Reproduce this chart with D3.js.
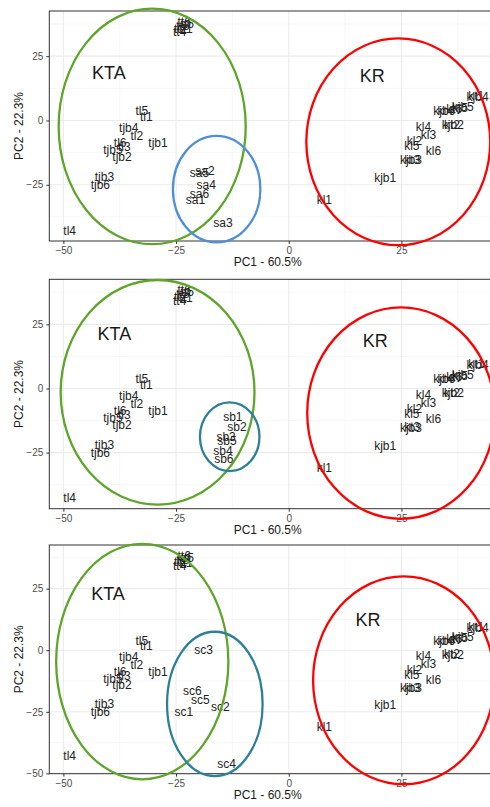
<!DOCTYPE html>
<html>
<head>
<meta charset="utf-8">
<script src="https://cdn.jsdelivr.net/npm/d3@7"></script>
<style>
body { margin: 0; background: #fff; }
svg { display: block; font-family: Arial, "Liberation Sans", sans-serif; }
</style>
</head>
<body>
<div id="chart_wrapper"></div>
<script>
// shared samples (same in all three panels)
var baseNames = ["tt5","tt6","tt3","tt1","tt2","tt4",
    "tl5","tl1","tjb4","tl2","tjb1","tl6","tjb5","tl3","tjb2","tjb3","tjb6","tl4",
    "kjb4","kt1","kjb5","kt5","kjb6","kt4","kt6","kjb2","kt2","kl4","kl3","kl2","kl5","kl6","kjb3","kt3","kjb1","kl1"];
var baseX = [-22.5,-23.2,-23.5,-22.8,-24.0,-24.2,
    -32.6,-31.6,-35.5,-33.7,-29.0,-37.4,-39.0,-36.5,-37.0,-40.9,-41.8,-48.6,
    41.9,41.6,38.6,38.0,34.5,34.8,36.7,36.4,36.2,29.9,31.0,27.9,27.3,32.1,27.1,27.4,21.4,7.9];
var baseY = [37.5,38.5,36.8,35.5,35.8,34.3,
    3.7,1.6,-2.7,-6.0,-8.8,-8.6,-11.4,-10.3,-14.0,-21.9,-24.9,-42.8,
    9.3,9.5,5.3,5.0,3.7,3.9,4.7,-1.7,-1.5,-2.3,-5.6,-7.9,-9.9,-11.8,-15.3,-15.1,-22.2,-31.0];

// panel specific samples
var saNames = ["sa2","sa5","sa4","sa6","sa1","sa3"];
var saX = [-18.6,-19.8,-18.3,-19.8,-20.7,-14.6];
var saY = [-19.6,-20.2,-25.2,-28.4,-31.0,-39.7];

var sbNames = ["sb1","sb2","sb3","sb5","sb4","sb6"];
var sbX = [-12.4,-11.5,-13.9,-13.7,-14.6,-14.4];
var sbY = [-11.1,-15.0,-18.9,-20.5,-24.4,-27.6];

var scNames = ["sc3","sc6","sc5","sc2","sc1","sc4"];
var scX = [-18.9,-21.4,-19.6,-15.2,-23.3,-13.8];
var scY = [0.0,-16.3,-20.3,-23.1,-25.0,-45.9];

// ellipses: [cx, cy, rx, ry] in data units, one list per panel
var ellKTA = [[-30.3,-2.3,20.75,45.8],[-29.1,-1.5,21.5,43.8],[-32.5,-4.6,19.1,47.8]];
var ellKR  = [[24.3,-8.3,20.4,40.2],[24.9,-9.6,20.8,41.2],[25.5,-12.2,20.1,42.2]];
var ellSub = [[-16.0,-26.7,9.7,20.7],[-13.1,-18.8,6.6,13.4],[-16.4,-21.8,10.6,29.3]];
var subColor = ["#4f8fd9","#2e8099","#2e8099"];

// group labels per panel
var ktaPos = [[-39.9,18.7],[-38.7,21.5],[-40.1,23.1]];
var krPos  = [[18.5,17.4],[19.2,18.6],[17.6,12.2]];

var xTicks = [-50,-25,0,25];
var yTicks = [-50,-25,0,25];

var width = 490, height = 807;
var svg = d3.select("#chart_wrapper").append("svg").attr("width", width).attr("height", height);

var panels = [
    {top: 11, bottom: 241, names: saNames, xs: saX, ys: saY},
    {top: 279.3, bottom: 508.7, names: sbNames, xs: sbX, ys: sbY},
    {top: 545, bottom: 773.7, names: scNames, xs: scX, ys: scY}
];

var left = 49.3, right = 498;
var fontFam = "Arial, 'Liberation Sans', sans-serif";

function expand(ext) {
    var pad = (ext[1] - ext[0]) * 0.05;
    return [ext[0] - pad, ext[1] + pad];
}

var allX = baseX.concat(saX, sbX, scX);
var x = d3.scaleLinear().domain(expand(d3.extent(allX))).range([left, right]);

panels.forEach(function(p, i) {
    var pts = baseNames.map(function(n, j) { return {name: n, x: baseX[j], y: baseY[j]}; })
        .concat(p.names.map(function(n, j) { return {name: n, x: p.xs[j], y: p.ys[j]}; }));
    var y = d3.scaleLinear().domain(expand(d3.extent(pts, function(d) { return d.y; }))).range([p.bottom, p.top]);
    var g = svg.append("g");

    // grid
    var xd = x.domain(), yd = y.domain();
    var xMinor = xTicks.map(function(t) { return t + 12.5; }).concat([-62.5]).filter(function(t) { return t > xd[0] && t < xd[1]; });
    var yMinor = yTicks.map(function(t) { return t + 12.5; }).concat([-62.5]).filter(function(t) { return t > yd[0] && t < yd[1]; });
    var yMaj = yTicks.filter(function(t) { return t >= yd[0] - 0.01 && t <= yd[1]; });

    g.selectAll(".xminor").data(xMinor).enter().append("line")
        .attr("x1", d => x(d)).attr("x2", d => x(d)).attr("y1", p.top).attr("y2", p.bottom)
        .attr("stroke", "#f2f2f2").attr("stroke-width", 0.6);
    g.selectAll(".yminor").data(yMinor).enter().append("line")
        .attr("y1", d => y(d)).attr("y2", d => y(d)).attr("x1", left).attr("x2", right)
        .attr("stroke", "#f2f2f2").attr("stroke-width", 0.6);
    g.selectAll(".xmaj").data(xTicks).enter().append("line")
        .attr("x1", d => x(d)).attr("x2", d => x(d)).attr("y1", p.top).attr("y2", p.bottom)
        .attr("stroke", "#ebebeb").attr("stroke-width", 1.1);
    g.selectAll(".ymaj").data(yMaj).enter().append("line")
        .attr("y1", d => y(d)).attr("y2", d => y(d)).attr("x1", left).attr("x2", right)
        .attr("stroke", "#ebebeb").attr("stroke-width", 1.1);

    // axes
    g.append("g").attr("transform", "translate(0," + p.bottom + ")")
        .call(d3.axisBottom(x).tickValues(xTicks).tickSize(3).tickPadding(3))
        .call(function(a) {
            a.select(".domain").remove();
            a.selectAll("line").attr("stroke", "#333");
            a.selectAll("text").attr("fill", "#4d4d4d").attr("font-size", 10).attr("font-family", fontFam);
        });
    g.append("g").attr("transform", "translate(" + left + ",0)")
        .call(d3.axisLeft(y).tickValues(yMaj).tickSize(3).tickPadding(3))
        .call(function(a) {
            a.select(".domain").remove();
            a.selectAll("line").attr("stroke", "#333");
            a.selectAll("text").attr("fill", "#4d4d4d").attr("font-size", 10).attr("font-family", fontFam);
        });

    g.append("rect").attr("x", left).attr("y", p.top).attr("width", right - left).attr("height", p.bottom - p.top)
        .attr("fill", "none").attr("stroke", "#333").attr("stroke-width", 1);

    // axis titles
    g.append("text").attr("x", (left + right) / 2 - 6).attr("y", p.bottom + 25)
        .attr("text-anchor", "middle").attr("font-size", 12).attr("fill", "#1a1a1a").text("PC1 - 60.5%");
    g.append("text").attr("transform", "translate(" + 23 + "," + ((p.top + p.bottom) / 2) + ") rotate(-90)")
        .attr("text-anchor", "middle").attr("font-size", 12).attr("fill", "#1a1a1a").text("PC2 - 22.3%");

    // labels
    g.selectAll(".lbl").data(pts).enter().append("text")
        .attr("x", d => x(d.x)).attr("y", d => y(d.y)).attr("dy", "0.35em")
        .attr("text-anchor", "middle").attr("font-size", 12).attr("fill", "#222")
        .text(d => d.name);

    // ellipses
    function ell(e, col) {
        g.append("ellipse")
            .attr("cx", x(e[0])).attr("cy", y(e[1]))
            .attr("rx", x(e[0] + e[2]) - x(e[0])).attr("ry", y(e[1]) - y(e[1] + e[3]))
            .attr("fill", "none").attr("stroke", col).attr("stroke-width", 2.3);
    }
    ell(ellKTA[i], "#5fa52a");
    ell(ellKR[i], "#ff0000");
    ell(ellSub[i], subColor[i]);

    g.append("text").attr("x", x(ktaPos[i][0])).attr("y", y(ktaPos[i][1])).attr("dy", "0.35em")
        .attr("text-anchor", "middle").attr("font-size", 18).attr("fill", "#1a1a1a").text("KTA");
    g.append("text").attr("x", x(krPos[i][0])).attr("y", y(krPos[i][1])).attr("dy", "0.35em")
        .attr("text-anchor", "middle").attr("font-size", 18).attr("fill", "#1a1a1a").text("KR");
});
</script>
</body>
</html>
